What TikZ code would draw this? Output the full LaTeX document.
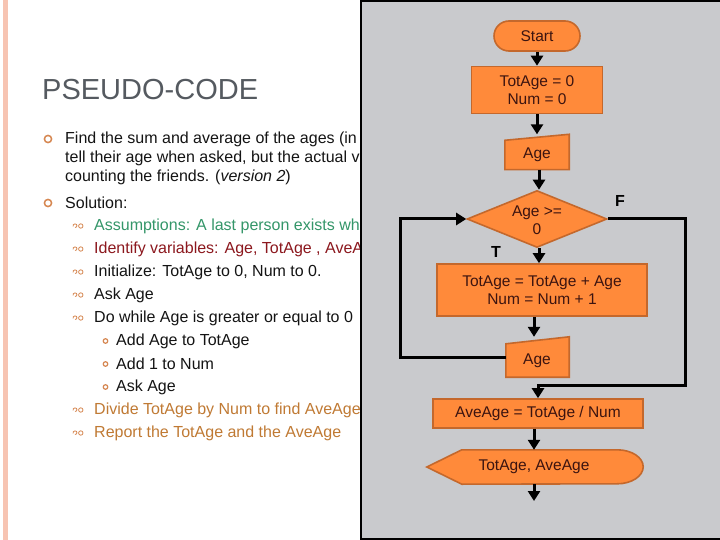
\documentclass[tikz,border=0pt]{standalone}
\usepackage{fontspec}
\setmainfont{Liberation Sans}
\usetikzlibrary{shapes.geometric,arrows.meta,calc}
\definecolor{panelgray}{RGB}{201,202,205}
\definecolor{boxfill}{RGB}{255,138,58}
\definecolor{boxedge}{RGB}{196,104,44}
\definecolor{boxtext}{RGB}{60,20,16}
\definecolor{pinkbar}{RGB}{247,196,178}
\definecolor{titlegray}{RGB}{85,90,96}
\definecolor{bulletorange}{RGB}{214,134,80}
\definecolor{assgreen}{RGB}{52,150,105}
\definecolor{idred}{RGB}{140,24,30}
\definecolor{endorange}{RGB}{192,122,52}
\definecolor{bodytext}{RGB}{20,20,20}
\tikzset{
  fc/.style={fill=boxfill,draw=boxedge,line width=1.6pt,text=boxtext,font=\fontsize{15.5}{18.5}\selectfont,align=center,inner sep=0pt},
  fctext/.style={text=boxtext,font=\fontsize{15.5}{18.5}\selectfont,align=center,inner sep=0pt},
  conn/.style={line width=3pt,black},
  arr/.style={conn,-{Triangle[width=12pt,length=10pt]}},
  tf/.style={font=\bfseries\fontsize{16}{16}\selectfont,text=black},
  txt/.style={anchor=west,inner sep=0pt,font=\fontsize{16}{19}\selectfont,text=bodytext},
  bulA/.style={draw=bulletorange,line width=1.5pt},
  bulC/.style={draw=bulletorange,line width=1.2pt},
}
\newcommand{\bulB}[2]{%
  \draw[bulletorange,line width=0.8pt] (#1-4,#2+1.5) arc (90:-200:2 and 1.8) (#1+1.8,#2) circle (2.2);}
\begin{document}
\begin{tikzpicture}[x=1pt,y=-1pt]
\useasboundingbox (0,0) rectangle (720,540);
\fill[white] (0,0) rectangle (720,540);
\fill[pinkbar] (3,0) rectangle (8,540);
% left text
\node[anchor=west,inner sep=0pt,font=\fontsize{29}{29}\selectfont,text=titlegray] (title) at (42,90) {PSEUDO-CODE};
\draw[bulA] (48,139) circle (3.6);
\node[txt] (p1) at (65,139) {Find the sum and average of the ages (in a group of friends who};
\node[txt] (p2) at (65,158) {tell their age when asked, but the actual value is};
\node[txt] (p3) at (65,177) {counting the friends. (\textit{version 2})};
\draw[bulA] (48,203) circle (3.6);
\node[txt] (s0) at (65,203) {Solution:};
\bulB{79}{226}
\node[txt,text=assgreen] (s1) at (94,226) {Assumptions: A last person exists who};
\bulB{79}{249}
\node[txt,text=idred] (s2) at (94,249) {Identify variables: Age, TotAge , AveAge};
\bulB{79}{272}
\node[txt] (s3) at (94,272) {Initialize: TotAge to 0, Num to 0.};
\bulB{79}{295}
\node[txt] (s4) at (94,295) {Ask Age};
\bulB{79}{318}
\node[txt] (s5) at (94,318) {Do while Age is greater or equal to 0};
\draw[bulC] (105.5,341) circle (2.3);
\node[txt] (s6) at (116,341) {Add Age to TotAge};
\draw[bulC] (105.5,364) circle (2.3);
\node[txt] (s7) at (116,364) {Add 1 to Num};
\draw[bulC] (105.5,387) circle (2.3);
\node[txt] (s8) at (116,387) {Ask Age};
\bulB{79}{410}
\node[txt,text=endorange] (s9) at (94,410) {Divide TotAge by Num to find AveAge};
\bulB{79}{433}
\node[txt,text=endorange] (s10) at (94,433) {Report the TotAge and the AveAge};
% panel
\draw[fill=panelgray,line width=2.5pt] (361,1) rectangle (724,539);
% flowchart nodes
\node[fc,rounded corners=15pt,minimum width=86pt,minimum height=30pt] (start) at (537,36) {Start};
\node[fc,minimum width=131pt,minimum height=47pt] (init) at (537,90) {TotAge = 0\\Num = 0};
\node[minimum width=64pt,minimum height=35pt,inner sep=0pt] (age1) at (537,152) {};
\filldraw[fill=boxfill,draw=boxedge,line width=1.6pt] (age1.south west) -- (age1.south east) -- (age1.north east) -- ($(age1.north west)+(0,6)$) -- cycle;
\node[fctext] (age1t) at (537,155) {Age};
\node[fc,diamond,minimum width=140pt,minimum height=57pt] (dec) at (537,219) {};
\node[fctext] (dect) at (537,220) {Age >=\\0};
\node[fc,minimum width=210pt,minimum height=52pt] (proc) at (542,290) {TotAge = TotAge + Age\\Num = Num + 1};
\node[minimum width=63pt,minimum height=40pt,inner sep=0pt] (age2) at (537.5,357) {};
\filldraw[fill=boxfill,draw=boxedge,line width=1.6pt] (age2.south west) -- (age2.south east) -- (age2.north east) -- ($(age2.north west)+(0,7)$) -- cycle;
\node[fctext] (age2t) at (537,361) {Age};
\node[fc,minimum width=210pt,minimum height=29pt] (ave) at (538,413.5) {AveAge = TotAge / Num};
\node[minimum width=216pt,minimum height=34pt,inner sep=0pt] (disp) at (535,467) {};
\filldraw[fill=boxfill,draw=boxedge,line width=1.6pt] (disp.west) -- ($(disp.north west)+(35,0)$) -- ($(disp.north east)+(-26,0)$) arc (-90:90:26 and 17) -- ($(disp.south west)+(35,0)$) -- cycle;
\node[fctext] (dispt) at (534,467) {TotAge, AveAge};
\coordinate (endpt) at (534,501);
\node[tf] (F) at (620,201) {F};
\node[tf] (T) at (496,252) {T};
% connectors
\draw[arr] (start.south) -- (init.north);
\draw[arr] (init.south) -- (age1.north);
\draw[arr] ($(age1.south)+(2,0)$) -- ($(dec.north)+(2,0)$);
\draw[arr] ($(dec.south)+(2,0)$) -- ($(proc.north)+(-3,0)$);
\draw[arr] ($(proc.south)+(-8,0)$) -- ($(age2.north)+(-3.5,0)$);
\draw[arr] (age2.west) -| (400,219) -- (dec.west);
\draw[arr] (dec.east) -| (685,385) -| (ave.north);
\draw[arr] ($(ave.south)+(-4,0)$) -- ($(disp.north)+(-1,0)$);
\draw[arr] ($(disp.south)+(-1,0)$) -- (endpt);
\end{tikzpicture}
\end{document}
